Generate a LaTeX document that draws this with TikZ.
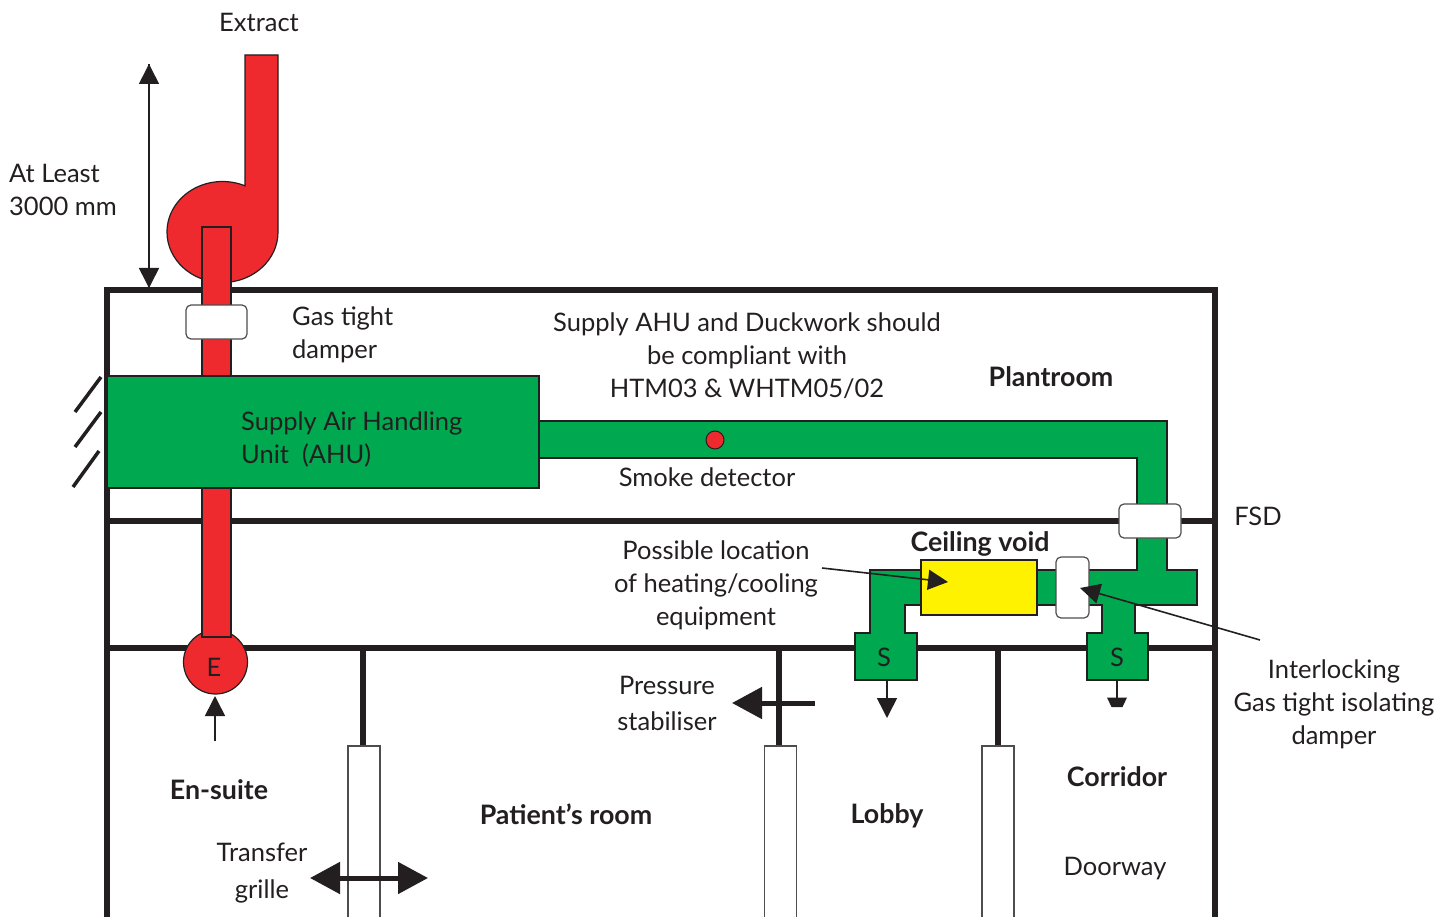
\documentclass[tikz,border=0pt]{standalone}
\usepackage{fontspec}
\usepackage{xcolor}
\usetikzlibrary{arrows.meta}
\setmainfont{Lato}
\definecolor{ductred}{HTML}{EE2A2E}
\definecolor{ductgreen}{HTML}{00A84F}
\definecolor{heatyellow}{HTML}{FFF200}
\definecolor{inkblack}{HTML}{231F20}
\tikzset{
  lbl/.style={text=inkblack,inner sep=0pt,align=center,font=\fontsize{25.5}{33}\selectfont},
  lblleft/.style={lbl,align=left,anchor=west},
  room/.style={lbl,font=\fontsize{26.8}{33}\selectfont\bfseries},
  wall/.style={draw=inkblack,line width=5.5pt},
  damperbox/.style={draw=inkblack!80,line width=1.2pt,fill=white,rounded corners=5pt,inner sep=0pt},
  thinarrow/.style={draw=inkblack,line width=1.6pt,-{Triangle[length=20pt,width=20pt]}},
  thickarrow/.style={draw=inkblack,line width=5pt,-{Triangle[length=30pt,width=31pt]}},
}
\begin{document}
\begin{tikzpicture}[x=1pt,y=-1pt]
  \useasboundingbox (0,0) rectangle (1453,917);
  % walls
  \draw[wall] (107,917) -- (107,290) -- (1215,290) -- (1215,917);
  \draw[wall] (107,521) -- (1215,521);
  \draw[wall] (107,648) -- (1215,648);
  \draw[wall] (363,648) -- (363,746);
  \draw[wall] (779,648) -- (779,746);
  \draw[wall] (998,648) -- (998,746);
  \draw[inkblack!80,line width=1.2pt] (348,917) -- (348,746) -- (380,746) -- (380,917);
  \draw[inkblack!80,line width=1.2pt] (764.5,917) -- (764.5,746) -- (796.5,746) -- (796.5,917);
  \draw[inkblack!80,line width=1.2pt] (982,917) -- (982,746) -- (1014,746) -- (1014,917);
  % outside air
  \draw[inkblack,line width=3.5pt] (101,377) -- (75,412);
  \draw[inkblack,line width=3.5pt] (101,412) -- (75,447);
  \draw[inkblack,line width=3.5pt] (99,451) -- (73,487);
  % extract
  \draw[inkblack,line width=1.2pt,fill=ductred] (245,55) -- (278,55) -- (278,232)
    arc[start angle=0,end angle=-294,x radius=55.5pt,y radius=50.5pt] -- cycle;
  \node[circle,draw=inkblack,line width=1.2pt,fill=ductred,minimum size=64pt,inner sep=0pt] (terminal) at (215.5,662) {};
  \draw[inkblack,line width=1.2pt,fill=ductred] (202,227) rectangle (231,637);
  \node[lbl] (elabel) at (214,667) {E};
  % supply
  \draw[inkblack,line width=1.2pt,fill=ductgreen] (539,421) -- (1167,421) -- (1167,570) -- (1197,570)
    -- (1197,605) -- (1135,605) -- (1135,633) -- (1148,633) -- (1148,680) -- (1087,680) -- (1087,633)
    -- (1102,633) -- (1102,605) -- (905,605) -- (905,633) -- (917,633) -- (917,680) -- (855,680)
    -- (855,633) -- (870,633) -- (870,570) -- (1137,570) -- (1137,458) -- (539,458) -- cycle;
  \node[draw=inkblack,line width=1.2pt,fill=ductgreen,minimum width=432pt,minimum height=112pt,inner sep=0pt] (ahu) at (323,432) {};
  \node[draw=inkblack,line width=1.2pt,fill=heatyellow,minimum width=116pt,minimum height=55pt,inner sep=0pt] (coil) at (979,587.5) {};
  \node[circle,draw=inkblack,line width=1pt,fill=ductred,minimum size=18pt,inner sep=0pt] (smoke) at (715,440) {};
  \node[damperbox,minimum width=61pt,minimum height=34pt] (gasdamper) at (216.5,322) {};
  \node[damperbox,minimum width=62pt,minimum height=34pt] (fsdbox) at (1150,521) {};
  \node[damperbox,minimum width=33pt,minimum height=61pt] (isodamper) at (1072.5,587.5) {};
  \node[lbl] (sleft) at (884,657) {S};
  \node[lbl] (sright) at (1117,657) {S};
  % arrows
  \coordinate (dimtop) at (149,64);
  \coordinate (dimbot) at (149,288);
  \draw[thinarrow] (dimtop) -- (dimbot);
  \draw[thinarrow] (dimbot) -- (dimtop);
  \coordinate (airin) at (215,741);
  \coordinate (airtip) at (215,696);
  \draw[thinarrow] (airin) -- (airtip);
  \coordinate (slefttop) at (887,680);
  \coordinate (slefttip) at (887,718);
  \draw[thinarrow] (slefttop) -- (slefttip);
  \coordinate (srighttop) at (1117,680);
  \coordinate (srightend) at (1117,698);
  \draw[inkblack,line width=1.6pt] (srighttop) -- (srightend);
  \fill[inkblack] (1107,697.5) -- (1127,697.5) -- (1122.5,707) -- (1111.5,707) -- cycle;
  \coordinate (heatfrom) at (822,568);
  \coordinate (heattip) at (948,582);
  \draw[thinarrow] (heatfrom) -- (heattip);
  \coordinate (isofrom) at (1260,640);
  \coordinate (isotip) at (1080,588);
  \draw[thinarrow] (isofrom) -- (isotip);
  \coordinate (stabfrom) at (815,703);
  \coordinate (stabtip) at (732,703);
  \draw[thickarrow] (stabfrom) -- (stabtip);
  \coordinate (grilleleft) at (310,878);
  \coordinate (grilleright) at (428,878);
  \draw[thickarrow,{Triangle[length=30pt,width=31pt]}-{Triangle[length=30pt,width=31pt]}] (grilleleft) -- (grilleright);
  % labels
  \node[lbl] (extract) at (259,22) {Extract};
  \node[lblleft] (atleast) at (9,190) {At Least\\3000 mm};
  \node[lblleft] (gaslabel) at (292,335) {Gas tight\\damper};
  \node[lbl] (htmnote) at (747,356) {Supply AHU and Duckwork should\\be compliant with\\HTM03 \& WHTM05/02};
  \node[room] (plantroom) at (1051,377) {Plantroom};
  \node[lblleft] (ahulabel) at (241,439.5) {Supply Air Handling\\Unit\ \ (AHU)};
  \node[lbl] (smokelabel) at (707,477) {Smoke detector};
  \node[lbl] (fsd) at (1258,516) {FSD};
  \node[room] (ceiling) at (980,544) {Ceiling void};
  \node[lbl] (heatlabel) at (716,585) {Possible location\\of heating/cooling\\equipment};
  \node[lbl] (isolabel) at (1334,704) {Interlocking\\Gas tight isolating\\damper};
  \node[lbl] (stablabel) at (667,703) {Pressure\\[3pt]stabiliser};
  \node[room] (ensuite) at (219,790) {En-suite};
  \node[room] (patient) at (566,814) {Patient’s room};
  \node[room] (lobby) at (887,816) {Lobby};
  \node[room] (corridor) at (1117,777) {Corridor};
  \node[lbl] (doorway) at (1115,869) {Doorway};
  \node[lbl] (grillelabel) at (262,873) {Transfer\\[4pt]grille};
\end{tikzpicture}
\end{document}
